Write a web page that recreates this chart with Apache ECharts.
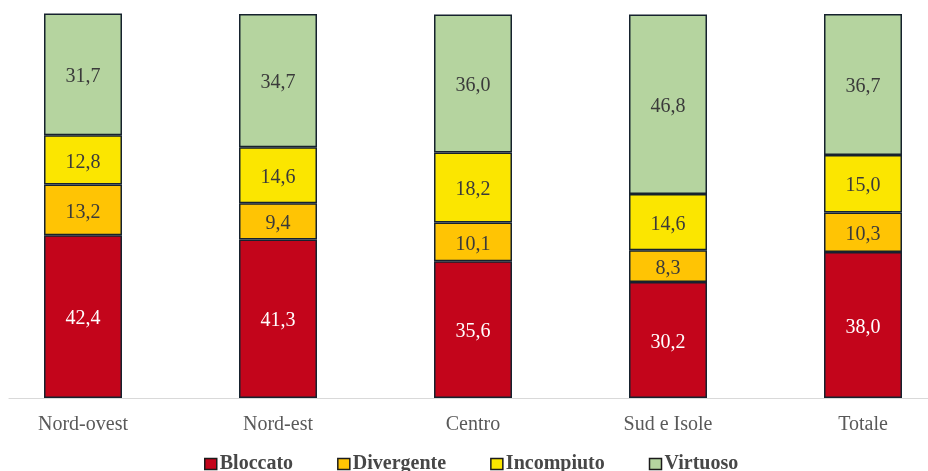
<!DOCTYPE html>
<html>
<head>
<meta charset="utf-8">
<script src="https://cdn.jsdelivr.net/npm/echarts@6/dist/echarts.min.js"></script>
<style>
  html, body { margin: 0; padding: 0; background: #ffffff; }
  #chart { width: 928px; height: 471px; }
</style>
</head>
<body>
<div id="chart"></div>
<script>
// Aree territoriali
const categories = ['Nord-ovest', 'Nord-est', 'Centro', 'Sud e Isole', 'Totale'];

// Quote percentuali per profilo
const bloccato   = [42.4, 41.3, 35.6, 30.2, 38.0];
const divergente = [13.2, 9.4, 10.1, 8.3, 10.3];
const incompiuto = [12.8, 14.6, 18.2, 14.6, 15.0];
const virtuoso   = [31.7, 34.7, 36.0, 46.8, 36.7];

const seriesNames = ['Bloccato', 'Divergente', 'Incompiuto', 'Virtuoso'];
const seriesData = [bloccato, divergente, incompiuto, virtuoso];
const seriesColors = ['#C3051B', '#FFC404', '#FBE600', '#B5D49F'];
const labelColors = ['#ffffff', '#3a3a3a', '#3a3a3a', '#3a3a3a'];

const serif = '"Liberation Serif", "Times New Roman", serif';

const fmt = v => v.toFixed(1).replace('.', ',');

const chart = echarts.init(document.getElementById('chart'), null, { renderer: 'canvas' });

chart.setOption({
  backgroundColor: '#ffffff',
  animation: false,
  grid: [
    // bars: categories sit on the ticks (no boundary gap)
    { left: 83, right: 65, top: 14, bottom: 73 },
    // baseline running across the full width
    { left: 9, right: 0, top: 14, bottom: 73 }
  ],
  legend: {
    left: 199,
    top: 449,
    itemWidth: 12,
    itemHeight: 11,
    itemGap: 44,
    icon: 'rect',
    textStyle: { fontFamily: serif, fontSize: 20, fontWeight: 'bold', color: '#474747', padding: [0, 0, 0, -2] },
    data: seriesNames.map((n, i) => ({
      name: n,
      itemStyle: { color: seriesColors[i], borderColor: '#1b1b1b', borderWidth: 1.5 }
    }))
  },
  xAxis: [
    {
      type: 'category',
      gridIndex: 0,
      boundaryGap: false,
      data: categories,
      axisLine: { show: false },
      axisTick: { show: false },
      axisLabel: { fontFamily: serif, fontSize: 20, color: '#595959', margin: 17 }
    },
    {
      type: 'category',
      gridIndex: 1,
      data: categories,
      axisLine: { show: true, lineStyle: { color: '#d9d9d9', width: 1.2 } },
      axisTick: { show: false },
      axisLabel: { show: false }
    }
  ],
  yAxis: [
    { type: 'value', gridIndex: 0, min: 0, max: 100, show: false, splitLine: { show: false } },
    { type: 'value', gridIndex: 1, min: 0, max: 100, show: false, splitLine: { show: false } }
  ],
  series: seriesNames.map((name, i) => ({
    name: name,
    type: 'bar',
    stack: 'tot',
    xAxisIndex: 0,
    yAxisIndex: 0,
    barWidth: 78,
    data: seriesData[i],
    itemStyle: { color: seriesColors[i], borderColor: '#16222e', borderWidth: 1.5 },
    label: {
      show: true,
      position: 'inside',
      offset: [0, 2.5],
      formatter: p => fmt(p.value),
      fontFamily: serif,
      fontSize: 20,
      color: labelColors[i]
    }
  }))
});
</script>
</body>
</html>
